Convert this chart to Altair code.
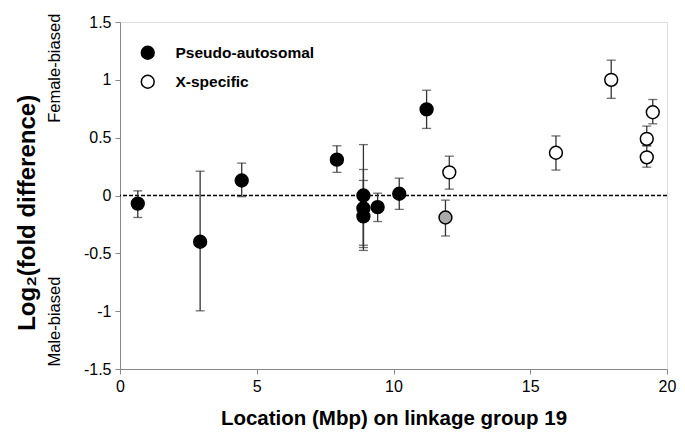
import altair as alt
import pandas as pd

# ---- data ----
location = [0.65, 2.93, 4.45, 7.93, 8.9, 8.9, 8.9, 9.42, 10.21, 11.21,
            11.9, 12.04, 15.94, 17.96, 19.26, 19.26, 19.48]
log2fc = [-0.07, -0.40, 0.13, 0.31, 0.0, -0.11, -0.18, -0.10, 0.015, 0.745,
          -0.19, 0.20, 0.37, 1.0, 0.49, 0.33, 0.72]
err_hi = [0.04, 0.21, 0.28, 0.43, 0.44, 0.225, 0.13, 0.02, 0.15, 0.91,
          -0.04, 0.34, 0.515, 1.17, 0.60, 0.43, 0.83]
err_lo = [-0.19, -0.997, -0.01, 0.20, -0.43, -0.45, -0.475, -0.225, -0.12, 0.58,
          -0.35, 0.055, 0.22, 0.84, 0.43, 0.245, 0.62]
group = ["Pseudo-autosomal"] * 10 + ["Intermediate"] + ["X-specific"] * 6

groups = ["Pseudo-autosomal", "X-specific", "Intermediate"]
group_fill = ["#000000", "#ffffff", "#aaaaaa"]

side_labels = ["Female-biased", "Male-biased"]
side_pos = [1.1, -1.09]

df = pd.DataFrame({"loc": location, "fc": log2fc, "hi": err_hi, "lo": err_lo, "group": group})
df_side = pd.DataFrame({"label": side_labels, "pos": side_pos})
df_title = pd.DataFrame({"label": ["Log₂(fold difference)"], "pos": [-0.15]})

FONT = "Liberation Sans"

xs = alt.Scale(domain=[0, 20], nice=False, zero=False)
ys = alt.Scale(domain=[-1.5, 1.5], nice=False, zero=False)

x_axis = alt.Axis(values=[0, 5, 10, 15, 20], grid=False, tickSize=5, labelPadding=4,
                  labelFlush=False,
                  title="Location (Mbp) on linkage group 19", titleFontSize=20.5,
                  titleFontWeight="bold", titlePadding=14, labelFontSize=16,
                  labelExpr="'' + datum.value")
y_axis = alt.Axis(values=[-1.5, -1, -0.5, 0, 0.5, 1, 1.5], grid=False, tickSize=5,
                  labelPadding=4, labelFlush=False, title=None, labelFontSize=16,
                  labelExpr="'' + datum.value")

base = alt.Chart(df)

zero_line = alt.Chart(pd.DataFrame({"a": [0]})).mark_rule(
    color="#000000", strokeDash=[4, 2], strokeWidth=1.5
).encode(y=alt.Y("a:Q", scale=ys, axis=y_axis))

err_rule = base.mark_rule(color="#333333", strokeWidth=1.3).encode(
    x=alt.X("loc:Q", scale=xs, axis=x_axis),
    y=alt.Y("lo:Q", scale=ys, axis=y_axis),
    y2="hi:Q",
)
cap_hi = base.mark_tick(orient="horizontal", size=9, thickness=1.3, color="#333333").encode(
    x=alt.X("loc:Q", scale=xs), y=alt.Y("hi:Q", scale=ys)
)
cap_lo = base.mark_tick(orient="horizontal", size=9, thickness=1.3, color="#333333").encode(
    x=alt.X("loc:Q", scale=xs), y=alt.Y("lo:Q", scale=ys)
)

points = base.mark_point(shape="circle", filled=True, size=165, opacity=1,
                         stroke="#000000", strokeWidth=1.5).encode(
    x=alt.X("loc:Q", scale=xs),
    y=alt.Y("fc:Q", scale=ys),
    fill=alt.Fill("group:N", scale=alt.Scale(domain=groups, range=group_fill),
                  legend=alt.Legend(orient="none", legendX=20, legendY=23, title=None,
                                    values=["Pseudo-autosomal", "X-specific"],
                                    labelFontSize=15.5, labelFontWeight="bold",
                                    labelFont=FONT, labelColor="#000000",
                                    symbolSize=165, symbolStrokeColor="#000000",
                                    symbolStrokeWidth=1.5, symbolType="circle",
                                    labelOffset=20, rowPadding=9)),
)

side = alt.Chart(df_side).mark_text(angle=270, fontSize=16.5, font=FONT, color="#000000",
                                    align="center", baseline="middle").encode(
    x=alt.value(-65), y=alt.Y("pos:Q", scale=ys), text="label:N"
)
ytitle = alt.Chart(df_title).mark_text(angle=270, fontSize=24, fontWeight="bold", font=FONT,
                                       color="#000000", align="center", baseline="middle").encode(
    x=alt.value(-92), y=alt.Y("pos:Q", scale=ys), text="label:N"
)

chart = alt.layer(zero_line, err_rule, cap_hi, cap_lo, points, side, ytitle).properties(
    width=547, height=347,
    autosize=alt.AutoSizeParams(type="none"),
    padding={"left": 112, "top": 14, "right": 10, "bottom": 67},
).configure_view(stroke=None).configure_axis(
    labelFont=FONT, titleFont=FONT, labelColor="#222222", titleColor="#000000",
    domainColor="#444444", tickColor="#444444", domainWidth=1.2, tickWidth=1.2
).configure(background="white")

chart.save("out.html", embed_options={"renderer": "svg", "actions": False})
